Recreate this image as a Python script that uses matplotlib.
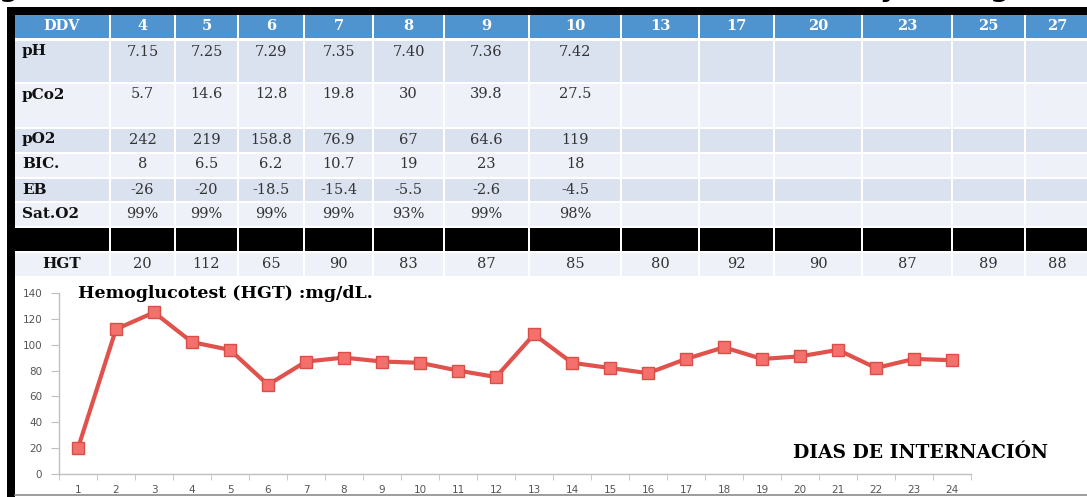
import matplotlib
matplotlib.use('Agg')
import matplotlib.pyplot as plt
from matplotlib.patches import Rectangle
from matplotlib.ticker import FixedLocator

# === Table data ===
ddv_days = ['4', '5', '6', '7', '8', '9', '10', '13', '17', '20', '23', '25', '27']
row_labels = ['pH', 'pCo2', 'pO2', 'BIC.', 'EB', 'Sat.O2']
ph_values = ['7.15', '7.25', '7.29', '7.35', '7.40', '7.36', '7.42']
pco2_values = ['5.7', '14.6', '12.8', '19.8', '30', '39.8', '27.5']
po2_values = ['242', '219', '158.8', '76.9', '67', '64.6', '119']
bic_values = ['8', '6.5', '6.2', '10.7', '19', '23', '18']
eb_values = ['-26', '-20', '-18.5', '-15.4', '-5.5', '-2.6', '-4.5']
sat_values = ['99%', '99%', '99%', '99%', '93%', '99%', '98%']
hgt_table = ['20', '112', '65', '90', '83', '87', '85', '80', '92', '90', '87', '89', '88']

# === Chart data ===
days = list(range(1, 25))
hgt_values = [20, 112, 125, 102, 96, 69, 87, 90, 87, 86, 80, 75,
              108, 86, 82, 78, 89, 98, 89, 91, 96, 82, 89, 88]

W, H = 1087, 497
HEADER_BLUE = '#4F93CF'
ROW_DARK = '#DAE1EF'
ROW_LIGHT = '#EEF2F8'
SERIF = 'DejaVu Serif'
VAL_SIZE = 10.5
LABEL_SIZE = 11

fig = plt.figure(figsize=(W / 100, H / 100), dpi=100)
fig.patch.set_facecolor('white')

# full-figure axes in pixel coordinates for the table part
bg = fig.add_axes([0, 0, 1, 1])
bg.set_xlim(0, W)
bg.set_ylim(H, 0)
bg.axis('off')

# black frame around the slide content
bg.add_patch(Rectangle((7, 7), W - 7, 8, color='black', lw=0))
bg.add_patch(Rectangle((7, 7), 8, H - 7, color='black', lw=0))

# cut-off title letters at the very top (only descenders visible)
for gx, ch in [(-1, 'g'), (880, 'y'), (990, 'g')]:
    bg.text(gx, -4, ch, fontsize=20, fontweight='bold', family='DejaVu Sans',
            va='baseline', ha='left', color='black', clip_on=True)

col_left = [15, 111, 176, 239, 305, 374, 445, 530, 622, 700, 775, 863, 953, 1026]
col_right = [c - 2 for c in col_left[1:]] + [W + 2]

# (top, bottom, face colour)
rows = [(15, 38, HEADER_BLUE),
        (41, 82, ROW_DARK),
        (84, 127, ROW_LIGHT),
        (129, 152, ROW_DARK),
        (154, 177, ROW_LIGHT),
        (179, 201, ROW_DARK),
        (203, 226, ROW_LIGHT),
        (228, 251, 'black'),
        (253, 276, ROW_LIGHT)]

for top, bot, color in rows:
    for x0, x1 in zip(col_left, col_right):
        bg.add_patch(Rectangle((x0, top), x1 - x0, bot - top, color=color, lw=0))

def col_center(i):
    return (col_left[i] + col_right[i]) / 2

# header row
bg.text(col_center(0), 26.5, 'DDV', color='white', fontsize=VAL_SIZE, fontweight='bold',
        family=SERIF, ha='center', va='center')
for i, d in enumerate(ddv_days):
    bg.text(col_center(i + 1), 26.5, d, color='white', fontsize=VAL_SIZE, fontweight='bold',
            family=SERIF, ha='center', va='center')

# gas rows
gas_rows = [ph_values, pco2_values, po2_values, bic_values, eb_values, sat_values]
for (top, bot, _), label, vals in zip(rows[1:7], row_labels, gas_rows):
    ty = top + min(10.5, (bot - top) / 2)
    bg.text(22, ty, label, fontsize=LABEL_SIZE, fontweight='bold', family=SERIF,
            ha='left', va='center', color='#111111')
    for i, v in enumerate(vals):
        bg.text(col_center(i + 1), ty, v, fontsize=VAL_SIZE, family=SERIF,
                ha='center', va='center', color='#333333')

# HGT row
hy = (rows[8][0] + rows[8][1]) / 2
bg.text(col_center(0), hy, 'HGT', fontsize=LABEL_SIZE, fontweight='bold', family=SERIF,
        ha='center', va='center', color='#111111')
for i, v in enumerate(hgt_table):
    bg.text(col_center(i + 1), hy, v, fontsize=VAL_SIZE, family=SERIF,
            ha='center', va='center', color='#333333')

# bottom gray rule of the chart frame
bg.plot([15, W], [495, 495], color='#8C8C8C', lw=1.2)

# === Line chart ===
ax = fig.add_axes([59 / W, (H - 474) / H, 912 / W, 181 / H])
ax.set_facecolor('none')
ax.plot(days, hgt_values, color='#E0524C', lw=3, marker='s', markersize=8.5,
        markerfacecolor='#F4706D', markeredgecolor='#DA4E48', markeredgewidth=1)
ax.set_xlim(0.5, 24.5)
ax.set_ylim(0, 140)
ax.set_yticks(range(0, 141, 20))
ax.set_xticks(days)
ax.xaxis.set_minor_locator(FixedLocator([d + 0.5 for d in range(0, 25)]))
ax.tick_params(axis='x', which='major', length=0, pad=8, labelsize=7.5, labelcolor='#555555')
ax.tick_params(axis='x', which='minor', length=4, color='#BFBFBF', direction='out')
ax.tick_params(axis='y', length=6, color='#BFBFBF', labelsize=7.5, labelcolor='#555555', pad=6)
for side in ['top', 'right']:
    ax.spines[side].set_visible(False)
for side in ['left', 'bottom']:
    ax.spines[side].set_color('#BFBFBF')
    ax.spines[side].set_linewidth(1)

fig.text(78 / W, 1 - 294 / H, 'Hemoglucotest (HGT) :mg/dL.', fontsize=12.5,
         fontweight='bold', family=SERIF, ha='left', va='center', color='black')
fig.text(793 / W, 1 - 453 / H, 'DIAS DE INTERNACIÓN', fontsize=13.5,
         fontweight='bold', family=SERIF, ha='left', va='center', color='black')

fig.savefig('out.png', dpi=100)
